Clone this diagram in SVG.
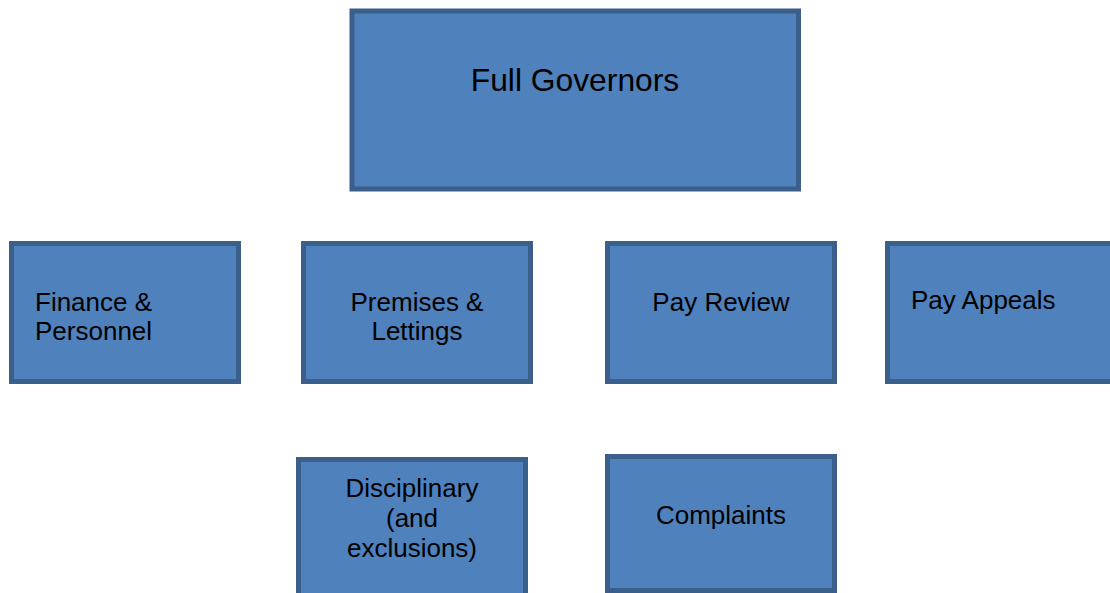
<svg xmlns="http://www.w3.org/2000/svg" width="1110" height="593" viewBox="0 0 1110 593">
<style>
.box{fill:#4F81BD;stroke:#3A5F8B;stroke-width:5}
.t{font-family:"Liberation Sans",Arial,sans-serif;font-size:26px;fill:#000}
.c{text-anchor:middle}
</style>
<rect width="1110" height="593" fill="#fff"/>
<g id="connectors"></g>
<g id="full-governors">
<rect class="box" x="352" y="11" width="446.5" height="178"/>
<text class="t c" x="575" y="91" style="font-size:31.8px">Full Governors</text>
</g>
<g id="finance">
<rect class="box" x="11.5" y="243.5" width="227" height="138"/>
<text class="t" x="35" y="311">Finance &amp;</text>
<text class="t" x="35" y="340">Personnel</text>
</g>
<g id="premises">
<rect class="box" x="303.5" y="243.5" width="227" height="138"/>
<text class="t c" x="417" y="311">Premises &amp;</text>
<text class="t c" x="417" y="340">Lettings</text>
</g>
<g id="pay-review">
<rect class="box" x="607.5" y="243.5" width="227" height="138"/>
<text class="t c" x="721" y="311">Pay Review</text>
</g>
<g id="pay-appeals">
<rect class="box" x="887.5" y="243.5" width="227" height="138"/>
<text class="t" x="911" y="309">Pay Appeals</text>
</g>
<g id="disciplinary">
<rect class="box" x="298.5" y="459.5" width="227" height="140"/>
<text class="t c" x="412" y="497">Disciplinary</text>
<text class="t c" x="412" y="527">(and</text>
<text class="t c" x="412" y="557">exclusions)</text>
</g>
<g id="complaints">
<rect class="box" x="607.5" y="456.5" width="227" height="134"/>
<text class="t c" x="721" y="524">Complaints</text>
</g>
</svg>
